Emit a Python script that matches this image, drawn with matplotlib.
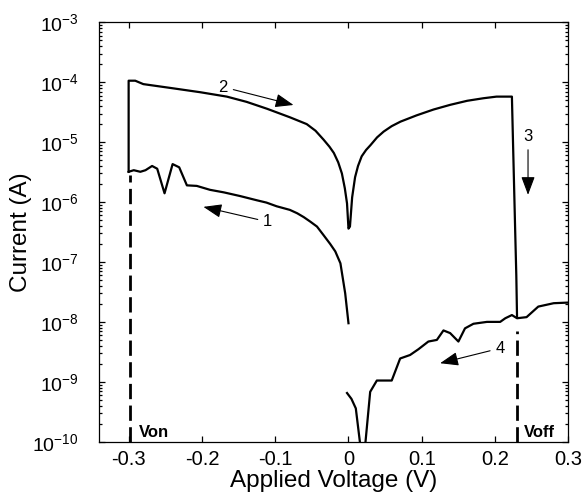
import numpy as np
import matplotlib
matplotlib.use('Agg')
import matplotlib.pyplot as plt
from matplotlib.ticker import LogLocator, FixedLocator, FixedFormatter, NullFormatter

plt.rcParams['font.family'] = ['Liberation Sans', 'DejaVu Sans']
plt.rcParams['mathtext.fontset'] = 'custom'
plt.rcParams['mathtext.rm'] = 'Liberation Sans'

# sweep 1: 0 V -> -0.3 V (low branch)
v_sweep1 = [0.0, -0.0045, -0.011, -0.018, -0.025, -0.034, -0.043, -0.052, -0.061, -0.070,
            -0.080, -0.098, -0.112, -0.125, -0.148, -0.170, -0.189, -0.207, -0.2205,
            -0.231, -0.240, -0.251, -0.261, -0.268, -0.277, -0.284, -0.293, -0.3]
i_sweep1 = [9.5e-9, 3.0e-8, 9.5e-8, 1.5e-7, 2.0e-7, 2.8e-7, 3.9e-7, 4.7e-7, 5.6e-7, 6.5e-7,
            7.4e-7, 8.5e-7, 9.8e-7, 1.07e-6, 1.26e-6, 1.45e-6, 1.6e-6, 1.86e-6, 1.9e-6,
            3.8e-6, 4.3e-6, 1.4e-6, 3.6e-6, 4.0e-6, 3.4e-6, 3.2e-6, 3.4e-6, 3.2e-6]

# sweep 2: -0.3 V -> Voff (high branch, then drop)
v_sweep2 = [-0.3, -0.3, -0.291, -0.28, -0.239, -0.202, -0.166, -0.139, -0.111, -0.080,
            -0.057, -0.045, -0.034, -0.026, -0.020, -0.014, -0.009, -0.005, -0.002, 0.0,
            0.002, 0.005, 0.009, 0.013, 0.018, 0.024, 0.030, 0.039, 0.048, 0.059, 0.071,
            0.093, 0.116, 0.139, 0.162, 0.184, 0.202, 0.223,
            0.2245, 0.226, 0.2275, 0.229, 0.230]
i_sweep2 = [3.2e-6, 1.06e-4, 1.06e-4, 9.3e-5, 7.9e-5, 6.8e-5, 5.75e-5, 4.7e-5, 3.6e-5, 2.6e-5,
            2.0e-5, 1.55e-5, 1.1e-5, 8.4e-6, 6.6e-6, 4.6e-6, 3.0e-6, 1.7e-6, 9.5e-7, 3.6e-7,
            3.9e-7, 1.2e-6, 2.6e-6, 4.0e-6, 5.8e-6, 7.4e-6, 8.9e-6, 1.2e-5, 1.5e-5, 1.85e-5, 2.2e-5,
            2.8e-5, 3.5e-5, 4.2e-5, 4.9e-5, 5.4e-5, 5.75e-5, 5.75e-5,
            1.0e-5, 1.8e-6, 3.2e-7, 6.0e-8, 1.2e-8]

# sweep 4: 0.3 V -> 0 V (low branch)
v_sweep4 = [0.300, 0.280, 0.259, 0.243, 0.230, 0.223, 0.214, 0.207, 0.189, 0.1705,
            0.159, 0.150, 0.1387, 0.1296, 0.1206, 0.109, 0.0955, 0.084, 0.0705,
            0.059, 0.0387, 0.0296, 0.0225, 0.0195, 0.0165, 0.010, 0.004, -0.002]
i_sweep4 = [2.1e-8, 2.05e-8, 1.8e-8, 1.2e-8, 1.15e-8, 1.3e-8, 1.15e-8, 1.0e-8, 1.0e-8, 9.3e-9,
            7.8e-9, 4.7e-9, 6.5e-9, 7.2e-9, 5.0e-9, 4.7e-9, 3.5e-9, 2.8e-9, 2.45e-9,
            1.05e-9, 1.05e-9, 6.8e-10, 8e-11, 2.5e-11, 8e-11, 3.6e-10, 5.2e-10, 6.5e-10]

v_on, i_on_top = -0.298, 2.8e-6
v_off, i_off_top = 0.23, 7e-9

x_ticks = [-0.3, -0.2, -0.1, 0, 0.1, 0.2, 0.3]
x_labels = ['-0.3', '-0.2', '-0.1', '0', '0.1', '0.2', '0.3']
y_ticks = [1e-10, 1e-9, 1e-8, 1e-7, 1e-6, 1e-5, 1e-4, 1e-3]
y_labels = [r'$\mathregular{10^{%d}}$' % e for e in range(-10, -2)]

fig = plt.figure(figsize=(5.87, 4.99), dpi=100)
ax = fig.add_axes([0.1692, 0.1148, 0.7990, 0.8405])

lw = 1.6
ax.plot(v_sweep1, i_sweep1, color='black', lw=lw)
ax.plot(v_sweep2, i_sweep2, color='black', lw=lw)
ax.plot(v_sweep4, i_sweep4, color='black', lw=lw)

ax.plot([v_on, v_on], [1e-10, i_on_top], color='black', lw=2, linestyle=(0, (5.5, 2.3)))
ax.plot([v_off, v_off], [1e-10, i_off_top], color='black', lw=2, linestyle=(0, (5.5, 2.3)))

ax.set_yscale('log')
ax.set_xlim(-0.34, 0.3)
ax.set_ylim(1e-10, 1e-3)

ax.xaxis.set_major_locator(FixedLocator(x_ticks))
ax.xaxis.set_major_formatter(FixedFormatter(x_labels))
ax.yaxis.set_major_locator(FixedLocator(y_ticks))
ax.yaxis.set_major_formatter(FixedFormatter(y_labels))
ax.yaxis.set_minor_locator(LogLocator(base=10, subs=np.arange(2, 10), numticks=20))
ax.yaxis.set_minor_formatter(NullFormatter())

ax.tick_params(which='both', direction='in', top=True, right=True, width=0.9)
ax.tick_params(which='major', length=4)
ax.tick_params(which='minor', length=2.5)
ax.tick_params(axis='x', labelsize=14.5, pad=6)
ax.tick_params(axis='y', labelsize=14, pad=15)
for s in ax.spines.values():
    s.set_linewidth(0.9)

ax.set_xlabel('Applied Voltage (V)', fontsize=17.5, labelpad=1)
ax.set_ylabel('Current (A)', fontsize=17.5)
ax.yaxis.set_label_coords(-0.143, 0.5)

arrow = dict(arrowstyle='-|>,head_length=0.8,head_width=0.3', color='black', lw=0.8,
             mutation_scale=14, shrinkA=2, shrinkB=0)
ax.annotate('2', xy=(-0.075, 10**-4.38), xytext=(-0.171, 10**-4.08), fontsize=12,
            ha='center', va='center', arrowprops=arrow)
ax.annotate('1', xy=(-0.198, 10**-6.08), xytext=(-0.11, 10**-6.33), fontsize=12,
            ha='center', va='center', arrowprops=arrow)
ax.annotate('3', xy=(0.245, 10**-5.88), xytext=(0.245, 10**-4.91), fontsize=12,
            ha='center', va='center', arrowprops=arrow)
ax.annotate('4', xy=(0.125, 10**-8.69), xytext=(0.207, 10**-8.44), fontsize=12,
            ha='center', va='center', arrowprops=arrow)

ax.text(-0.286, 10**-9.84, 'Von', fontsize=12, fontweight='bold', va='center')
ax.text(0.239, 10**-9.84, 'Voff', fontsize=12, fontweight='bold', va='center')

fig.savefig('out.png', dpi=100)
